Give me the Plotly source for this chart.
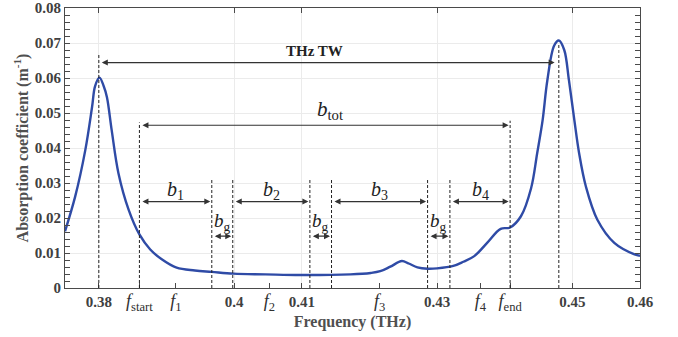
import plotly.graph_objects as go

# ---------------- data ----------------
freq = [0.3750, 0.3765, 0.3780, 0.3790, 0.37945, 0.3801, 0.3807, 0.3812, 0.3819, 0.3829,
        0.3844, 0.3860, 0.3876, 0.3893, 0.3915, 0.3942, 0.3967, 0.3999,
        0.4046, 0.4098, 0.4172, 0.4202, 0.4216, 0.4231, 0.4248, 0.4258,
        0.4271, 0.4286, 0.4300, 0.4324, 0.4339, 0.4355, 0.4374, 0.4394,
        0.4408, 0.4424, 0.4439, 0.4448, 0.4456, 0.4463, 0.4473, 0.4480,
        0.4488, 0.4495, 0.4503, 0.4510, 0.4520, 0.4537, 0.4562, 0.4592,
        0.4600]
absorption = [0.0162, 0.0261, 0.0394, 0.0517, 0.0577, 0.0601, 0.0578, 0.0545, 0.0451, 0.0328,
              0.0224, 0.0153, 0.0110, 0.0082, 0.0058, 0.0050, 0.0046, 0.0041,
              0.0039, 0.0037, 0.0039, 0.0043, 0.0048, 0.0061, 0.0077, 0.0070,
              0.0059, 0.0055, 0.0056, 0.0063, 0.0075, 0.0091, 0.0129, 0.0169,
              0.0173, 0.0205, 0.0285, 0.0385, 0.0479, 0.0593, 0.0692, 0.0707,
              0.0680, 0.0593, 0.0479, 0.0385, 0.0290, 0.0195, 0.0129, 0.0096,
              0.0092]

num_tick_vals = [0.38, 0.40, 0.41, 0.43, 0.45, 0.46]
num_tick_text = ["0.38", "0.4", "0.41", "0.43", "0.45", "0.46"]
f_tick_vals = [0.3860, 0.3914, 0.4052, 0.4215, 0.4364, 0.4408]
f_tick_text = ["<i>f</i><sub>start</sub>", "<i>f</i><sub>1</sub>", "<i>f</i><sub>2</sub>",
               "<i>f</i><sub>3</sub>", "<i>f</i><sub>4</sub>", "<i>f</i><sub>end</sub>"]
y_tick_vals = [0, 0.01, 0.02, 0.03, 0.04, 0.05, 0.06, 0.07, 0.08]
y_tick_text = ["0", "0.01", "0.02", "0.03", "0.04", "0.05", "0.06", "0.07", "0.08"]

# vertical dashed markers: position and top value
marker_x = [0.3800, 0.3860, 0.3967, 0.3998, 0.4112, 0.4144, 0.4286, 0.4319, 0.4408, 0.4480]
marker_top = [0.0670, 0.0473, 0.0312, 0.0310, 0.0312, 0.0310, 0.0312, 0.0310, 0.0478, 0.0700]

# bands: label, start, end
band_labels = ["<i>b</i><sub>1</sub>", "<i>b</i><sub>2</sub>", "<i>b</i><sub>3</sub>", "<i>b</i><sub>4</sub>"]
band_start = [0.3860, 0.3998, 0.4144, 0.4319]
band_end = [0.3967, 0.4112, 0.4286, 0.4408]
band_arrow_y = 0.0247
band_label_y = 0.0280
gap_start = [0.3967, 0.4112, 0.4286]
gap_end = [0.3998, 0.4144, 0.4319]
gap_arrow_y = 0.0148
gap_label_y = 0.0190
gap_label = "<i>b</i><sub>g</sub>"

tw_start, tw_end, tw_y = 0.3800, 0.4476, 0.0644
tw_label, tw_label_x, tw_label_y = "<b>THz TW</b>", 0.4119, 0.0676
tot_start, tot_end, tot_y = 0.3860, 0.4408, 0.0465
tot_label, tot_label_x, tot_label_y = "<i>b</i><sub>tot</sub>", 0.4142, 0.0510

# ---------------- figure ----------------
SERIF = "Times New Roman, Liberation Serif, serif"
AX = "#4a4a4a"
fig = go.Figure()

fig.add_trace(go.Scatter(x=freq, y=absorption, mode="lines", line_shape="spline",
                         line=dict(color="#2f4ba6", width=2.4), hoverinfo="skip",
                         showlegend=False))
# invisible trace to host the symbolic-frequency axis
fig.add_trace(go.Scatter(x=f_tick_vals, y=[0] * len(f_tick_vals), xaxis="x2", mode="markers",
                         marker=dict(opacity=0), hoverinfo="skip", showlegend=False))

for xv, top in zip(marker_x, marker_top):
    fig.add_shape(type="line", x0=xv, x1=xv, y0=0, y1=top, xref="x", yref="y",
                  line=dict(color="#222222", width=1, dash="3px,2px"))

def arrow(x0, x1, y, both=True):
    fig.add_annotation(x=x1, y=y, ax=x0, ay=y, xref="x", yref="y", axref="x", ayref="y",
                       text="", showarrow=True, arrowhead=2, startarrowhead=2,
                       arrowside="end+start" if both else "end",
                       arrowsize=1, startarrowsize=1, arrowwidth=1.2,
                       arrowcolor="#333333", standoff=1.5, startstandoff=1.5)

arrow(tw_start, tw_end, tw_y)
arrow(tot_start, tot_end, tot_y)
for lab, s, e in zip(band_labels, band_start, band_end):
    arrow(s, e, band_arrow_y)
    fig.add_annotation(x=(s + e) / 2, y=band_label_y, text=lab, showarrow=False,
                       font=dict(family=SERIF, size=20, color="#222222"))
for s, e in zip(gap_start, gap_end):
    arrow(s, e, gap_arrow_y)
    fig.add_annotation(x=(s + e) / 2, y=gap_label_y, text=gap_label, showarrow=False,
                       font=dict(family=SERIF, size=19, color="#222222"))

fig.add_annotation(x=tw_label_x, y=tw_label_y, text=tw_label, showarrow=False,
                   font=dict(family=SERIF, size=15, color="#222222"))
fig.add_annotation(x=tot_label_x, y=tot_label_y, text=tot_label, showarrow=False,
                   font=dict(family=SERIF, size=21, color="#222222"))

xrange = [0.375, 0.46]
fig.update_layout(
    width=678, height=337,
    margin=dict(l=65, r=38, t=8, b=49, autoexpand=False),
    paper_bgcolor="white", plot_bgcolor="white",
    showlegend=False,
    font=dict(family=SERIF),
    xaxis=dict(range=xrange, tickvals=num_tick_vals,
               ticktext=["<b>%s</b>" % t for t in num_tick_text],
               showgrid=True, gridcolor="#ebebeb", gridwidth=1, zeroline=False,
               showline=True, linecolor=AX, linewidth=1, mirror="ticks",
               ticks="inside", ticklen=5, tickcolor=AX, automargin=False,
               tickfont=dict(family=SERIF, size=15, color="#404040"),
               title=dict(text="<b>Frequency (THz)</b>", standoff=6,
                          font=dict(family=SERIF, size=16, color="#505050"))),
    xaxis2=dict(range=xrange, overlaying="x", anchor="y", side="bottom",
                tickvals=f_tick_vals, ticktext=f_tick_text, showgrid=False,
                zeroline=False, showline=False, ticks="inside", ticklen=5, tickcolor=AX,
                automargin=False,
                tickfont=dict(family=SERIF, size=18, color="#303030")),
    yaxis=dict(range=[0, 0.08], tickvals=y_tick_vals,
               ticktext=["<b>%s</b>" % t for t in y_tick_text],
               showgrid=True, gridcolor="#ebebeb", gridwidth=1, zeroline=False,
               showline=True, linecolor=AX, linewidth=1, mirror="allticks",
               ticks="inside", ticklen=5, tickcolor=AX, automargin=False,
               minor=dict(ticks="inside", dtick=0.002, ticklen=3, tickcolor=AX, showgrid=False),
               tickfont=dict(family=SERIF, size=15, color="#404040"),
               title=dict(text="<b>Absorption coefficient (m<sup>-1</sup>)</b>", standoff=2,
                          font=dict(family=SERIF, size=16, color="#505050"))),
)

fig.write_html("out.html", config={"displayModeBar": False},
               post_script="document.body.style.margin='0px';")
